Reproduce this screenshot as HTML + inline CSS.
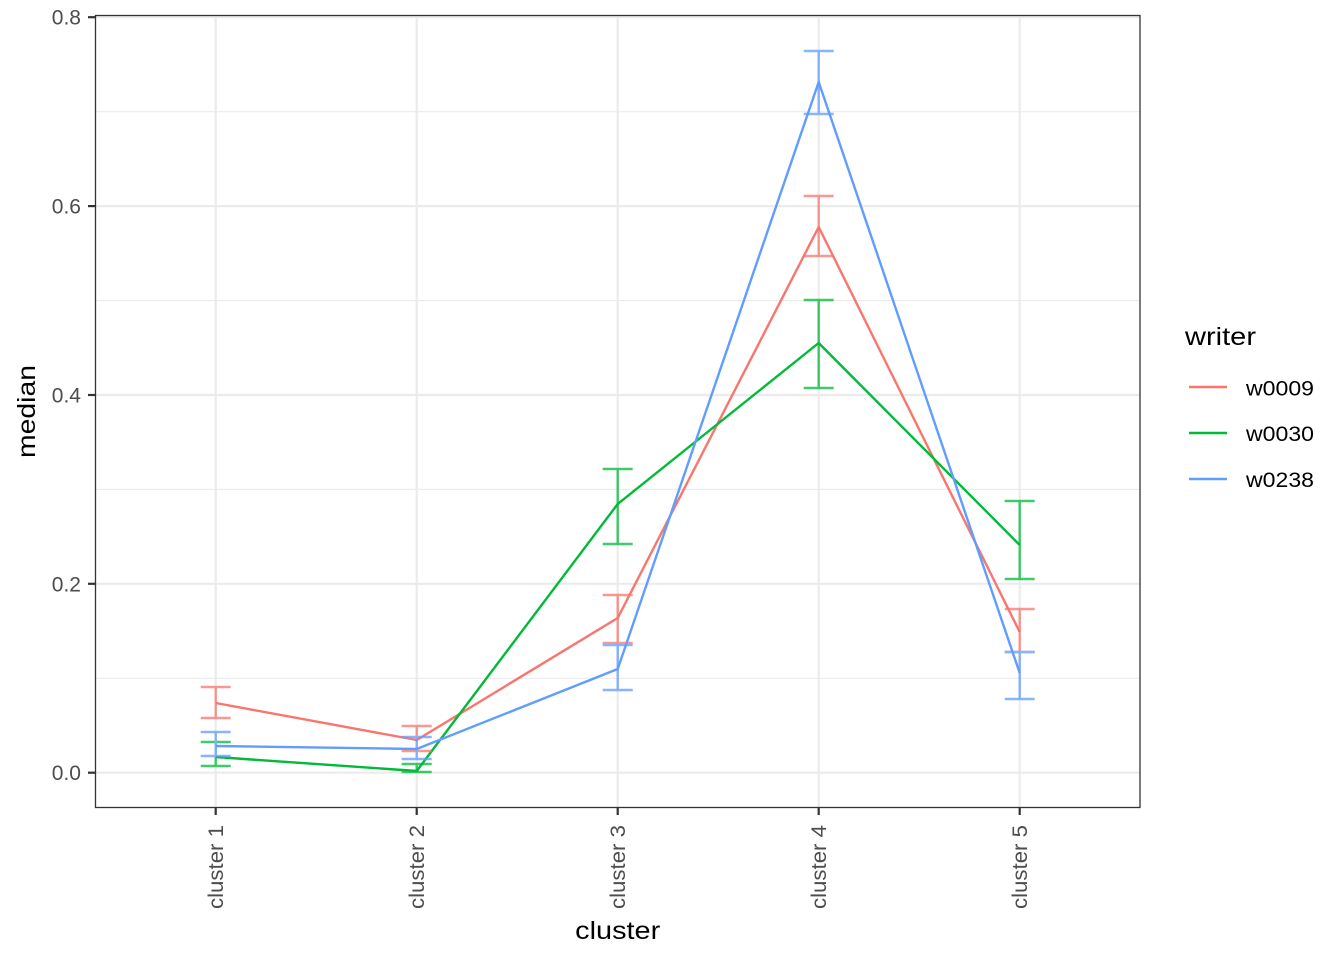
<!DOCTYPE html>
<html><head><meta charset="utf-8"><style>
html,body{margin:0;padding:0;background:#fff;}
svg{display:block;font-family:"Liberation Sans",Arial,sans-serif;}
</style></head><body>
<svg width="1344" height="960" viewBox="0 0 1344 960" xmlns="http://www.w3.org/2000/svg">
<rect x="0" y="0" width="1344" height="960" fill="#fff"/>
<!-- minor grid -->
<g stroke="#EBEBEB" stroke-width="1.1" fill="none">
<line x1="95.5" x2="1140" y1="678.3" y2="678.3"/>
<line x1="95.5" x2="1140" y1="489.4" y2="489.4"/>
<line x1="95.5" x2="1140" y1="300.6" y2="300.6"/>
<line x1="95.5" x2="1140" y1="111.7" y2="111.7"/>
</g>
<!-- major grid -->
<g stroke="#EBEBEB" stroke-width="2.2" fill="none">
<line x1="95.5" x2="1140" y1="772.7" y2="772.7"/>
<line x1="95.5" x2="1140" y1="583.8" y2="583.8"/>
<line x1="95.5" x2="1140" y1="395" y2="395"/>
<line x1="95.5" x2="1140" y1="206.1" y2="206.1"/>
<line x1="95.5" x2="1140" y1="17.2" y2="17.2"/>
<line x1="215.7" x2="215.7" y1="15.5" y2="807.5"/>
<line x1="416.7" x2="416.7" y1="15.5" y2="807.5"/>
<line x1="617.7" x2="617.7" y1="15.5" y2="807.5"/>
<line x1="818.7" x2="818.7" y1="15.5" y2="807.5"/>
<line x1="1019.7" x2="1019.7" y1="15.5" y2="807.5"/>
</g>
<!-- lines -->
<g fill="none" stroke-width="2.4" stroke-linejoin="round">
<polyline stroke="#F8766D" points="215.7,703 416.7,740 617.7,618 818.7,227 1019.7,632"/>
<polyline stroke="#00BA38" points="215.7,757 416.7,771 617.7,504 818.7,343 1019.7,545"/>
<polyline stroke="#619CFF" points="215.7,746 416.7,749 617.7,669 818.7,82 1019.7,673"/>
</g>
<!-- error bars -->
<g fill="none" stroke-width="2.4" opacity="0.75">
<g stroke="#F8766D">
<path d="M200.7 687H230.7M200.7 718H230.7M215.7 687V718"/>
<path d="M401.7 726H431.7M401.7 751H431.7M416.7 726V751"/>
<path d="M602.7 595H632.7M602.7 643H632.7M617.7 595V643"/>
<path d="M803.7 196H833.7M803.7 256H833.7M818.7 196V256"/>
<path d="M1004.7 609H1034.7M1004.7 652H1034.7M1019.7 609V652"/>
</g>
<g stroke="#00BA38">
<path d="M200.7 742H230.7M200.7 766H230.7M215.7 742V766"/>
<path d="M401.7 764H431.7M401.7 772H431.7M416.7 764V772"/>
<path d="M602.7 469H632.7M602.7 544H632.7M617.7 469V544"/>
<path d="M803.7 300H833.7M803.7 388H833.7M818.7 300V388"/>
<path d="M1004.7 501H1034.7M1004.7 579H1034.7M1019.7 501V579"/>
</g>
<g stroke="#619CFF">
<path d="M200.7 732H230.7M200.7 756H230.7M215.7 732V756"/>
<path d="M401.7 737H431.7M401.7 759H431.7M416.7 737V759"/>
<path d="M602.7 645H632.7M602.7 690H632.7M617.7 645V690"/>
<path d="M803.7 51H833.7M803.7 114H833.7M818.7 51V114"/>
<path d="M1004.7 652H1034.7M1004.7 699H1034.7M1019.7 652V699"/>
</g>
</g>
<!-- panel border -->
<rect x="95.5" y="15.5" width="1044.5" height="792" fill="none" stroke="#333" stroke-width="1.3"/>
<!-- ticks -->
<g stroke="#333" stroke-width="2.2">
<line x1="88" x2="95.5" y1="772.7" y2="772.7"/>
<line x1="88" x2="95.5" y1="583.8" y2="583.8"/>
<line x1="88" x2="95.5" y1="395" y2="395"/>
<line x1="88" x2="95.5" y1="206.1" y2="206.1"/>
<line x1="88" x2="95.5" y1="17.2" y2="17.2"/>
<line x1="215.7" x2="215.7" y1="807.5" y2="815"/>
<line x1="416.7" x2="416.7" y1="807.5" y2="815"/>
<line x1="617.7" x2="617.7" y1="807.5" y2="815"/>
<line x1="818.7" x2="818.7" y1="807.5" y2="815"/>
<line x1="1019.7" x2="1019.7" y1="807.5" y2="815"/>
</g>
<!-- y tick labels -->
<g fill="#4D4D4D" font-size="21" text-anchor="end">
<text x="81" y="780.2">0.0</text>
<text x="81" y="591.3">0.2</text>
<text x="81" y="402.5">0.4</text>
<text x="81" y="213.6">0.6</text>
<text x="81" y="24.7">0.8</text>
</g>
<!-- x tick labels -->
<g fill="#4D4D4D" font-size="21" text-anchor="end">
<text transform="translate(223,825) rotate(-90)" textLength="84" lengthAdjust="spacingAndGlyphs">cluster 1</text>
<text transform="translate(424,825) rotate(-90)" textLength="84" lengthAdjust="spacingAndGlyphs">cluster 2</text>
<text transform="translate(625,825) rotate(-90)" textLength="84" lengthAdjust="spacingAndGlyphs">cluster 3</text>
<text transform="translate(826,825) rotate(-90)" textLength="84" lengthAdjust="spacingAndGlyphs">cluster 4</text>
<text transform="translate(1027,825) rotate(-90)" textLength="84" lengthAdjust="spacingAndGlyphs">cluster 5</text>
</g>
<!-- axis titles -->
<text x="617.7" y="939" font-size="25" text-anchor="middle" fill="#000" textLength="85" lengthAdjust="spacingAndGlyphs">cluster</text>
<text transform="translate(35,411.5) rotate(-90)" font-size="25" text-anchor="middle" fill="#000" textLength="93" lengthAdjust="spacingAndGlyphs">median</text>
<!-- legend -->
<text x="1185" y="345" font-size="25" fill="#000" textLength="71" lengthAdjust="spacingAndGlyphs">writer</text>
<g stroke-width="2.4">
<line x1="1189" x2="1227" y1="387" y2="387" stroke="#F8766D"/>
<line x1="1189" x2="1227" y1="433" y2="433" stroke="#00BA38"/>
<line x1="1189" x2="1227" y1="479" y2="479" stroke="#619CFF"/>
</g>
<g font-size="21" fill="#000">
<text x="1246" y="395.5" textLength="68" lengthAdjust="spacingAndGlyphs">w0009</text>
<text x="1246" y="441" textLength="68" lengthAdjust="spacingAndGlyphs">w0030</text>
<text x="1246" y="487" textLength="68" lengthAdjust="spacingAndGlyphs">w0238</text>
</g>
</svg>
</body></html>
